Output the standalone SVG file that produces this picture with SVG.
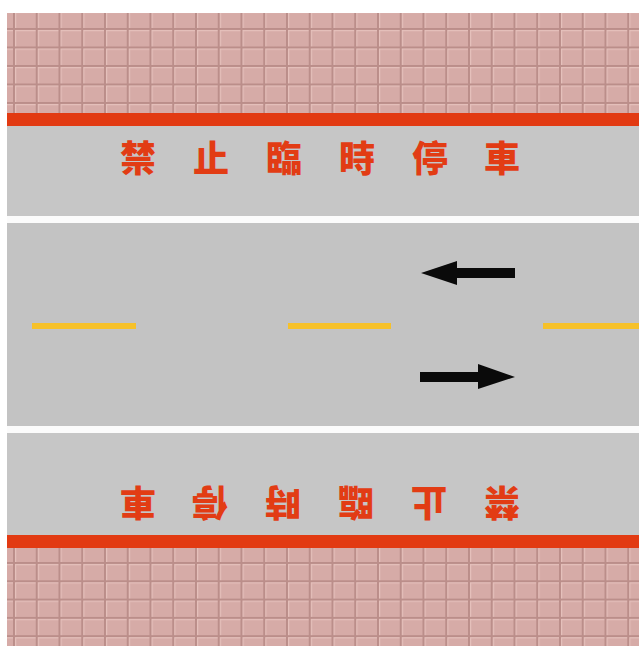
<svg xmlns="http://www.w3.org/2000/svg" width="639" height="646" viewBox="0 0 639 646">
<style>
.red{fill:#e23a12}
.walk{fill:#c6c6c6}
.road{fill:#c3c3c3}
.white{fill:#fbfbfb}
.dash{fill:#f6c12a}
.arrow{fill:#0a0a0a}
.sign{font-family:"Noto Sans CJK TC","Noto Sans CJK SC",sans-serif;font-weight:900;font-size:36px;fill:#e23c14;text-anchor:middle}
</style>
<defs>
<pattern id="tileTop" patternUnits="userSpaceOnUse" x="13" y="28" width="22.75" height="18.5">
<rect width="22.75" height="18.5" fill="#d6aba7"/>
<rect x="0" y="0" width="22.75" height="2" fill="#bb8e8a"/>
<rect x="0" y="2" width="22.75" height="1.2" fill="#e6c1bc"/>
<rect x="0" y="0" width="2" height="18.5" fill="#bb8e8a"/>
<rect x="2" y="2" width="1.2" height="16.5" fill="#e6c1bc"/>
</pattern>
<pattern id="tileBot" patternUnits="userSpaceOnUse" x="13" y="562" width="22.75" height="18.3">
<rect width="22.75" height="18.3" fill="#d6aba7"/>
<rect x="0" y="0" width="22.75" height="2" fill="#bb8e8a"/>
<rect x="0" y="2" width="22.75" height="1.2" fill="#e6c1bc"/>
<rect x="0" y="0" width="2" height="18.3" fill="#bb8e8a"/>
<rect x="2" y="2" width="1.2" height="16.3" fill="#e6c1bc"/>
</pattern>
</defs>
<rect width="639" height="646" fill="#ffffff"/>
<g id="pavement-top"><rect x="7" y="13" width="632" height="100" fill="url(#tileTop)"/></g>
<g id="curb-top"><rect class="red" x="7" y="113" width="632" height="13"/></g>
<g id="sidewalk-top"><rect class="walk" x="7" y="126" width="632" height="90"/></g>
<g id="edge-top"><rect class="white" x="7" y="216" width="632" height="7"/></g>
<g id="road"><rect class="road" x="7" y="223" width="632" height="203"/></g>
<g id="edge-bottom"><rect class="white" x="7" y="426" width="632" height="7"/></g>
<g id="sidewalk-bottom"><rect class="walk" x="7" y="433" width="632" height="102"/></g>
<g id="curb-bottom"><rect class="red" x="7" y="535" width="632" height="13"/></g>
<g id="pavement-bottom"><rect x="7" y="548" width="632" height="98" fill="url(#tileBot)"/></g>
<g id="centerline">
<rect class="dash" x="32" y="323" width="104" height="6"/>
<rect class="dash" x="288" y="323" width="103" height="6"/>
<rect class="dash" x="543" y="323" width="96" height="6"/>
</g>
<g id="arrow-left"><polygon class="arrow" points="421,273 457,261 457,268 515,268 515,278 457,278 457,285"/></g>
<g id="arrow-right"><polygon class="arrow" points="515,377 478,364 478,372 420,372 420,382 478,382 478,389"/></g>
<g id="text-top" class="sign">
<text x="138" y="172">禁</text>
<text x="211" y="172">止</text>
<text x="284" y="172">臨</text>
<text x="357" y="172">時</text>
<text x="430" y="172">停</text>
<text x="502" y="172">車</text>
</g>
<g id="text-bottom" class="sign" transform="rotate(180 320 330.5)">
<text x="138" y="172">禁</text>
<text x="211" y="172">止</text>
<text x="284" y="172">臨</text>
<text x="357" y="172">時</text>
<text x="430" y="172">停</text>
<text x="502" y="172">車</text>
</g>
</svg>
